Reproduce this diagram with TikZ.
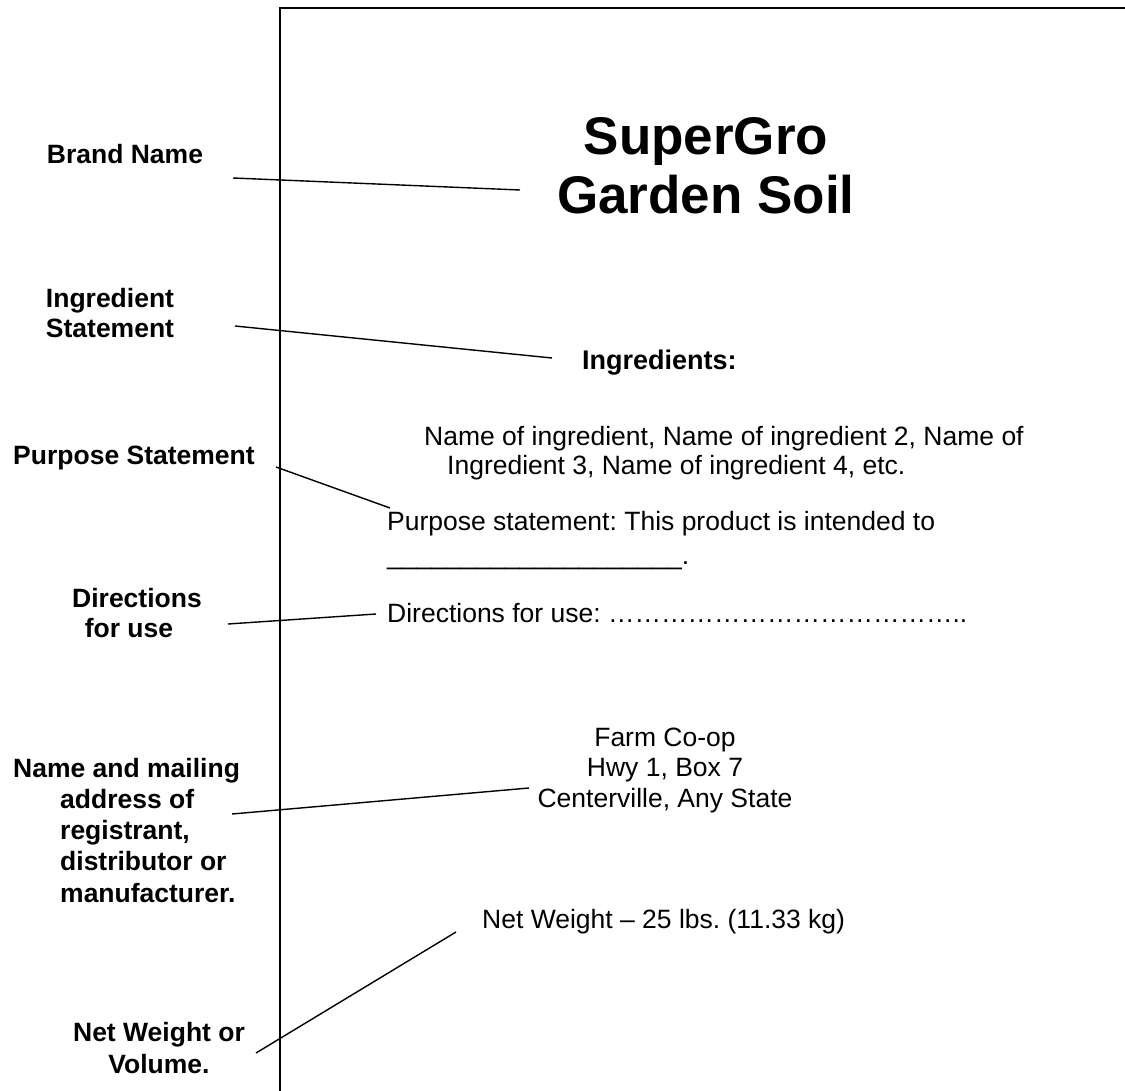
\documentclass[tikz,border=0pt]{standalone}
\usepackage{fontspec}
\setmainfont{Liberation Sans}
\frenchspacing
\begin{document}
\frenchspacing
\begin{tikzpicture}[x=1pt,y=-1pt]
\tikzset{
  lbl/.style={font=\bfseries\fontsize{26.5}{31}\selectfont, inner sep=0pt, align=center, anchor=base},
  body/.style={font=\fontsize{26.5}{30.5}\selectfont, inner sep=0pt},
  conn/.style={line width=1.4pt},
  framestyle/.style={line width=1.8pt}
}
\useasboundingbox (0,0) rectangle (1125,1091);
\fill[white] (0,0) rectangle (1125,1091);
% label frame
\coordinate (fb) at (280,1091);
\coordinate (ftl) at (280,8);
\coordinate (ftr) at (1125,8);
\draw[framestyle] (fb) -- (ftl) -- (ftr);

% left labels (base = baseline of last line)
\node[lbl] (brandlbl) at (125,164) {Brand Name};
\node[lbl] (ingrlbl) at (110,338) {Ingredient\\Statement};
\node[lbl] (purplbl) at (134,464) {Purpose Statement};
\node[lbl, font=\bfseries\fontsize{26.5}{29.5}\selectfont] (dirlbl) at (137,637) {Directions\\for use\hspace*{16pt}};
\node[lbl, align=left, anchor=base west, font=\bfseries\fontsize{26.5}{31.25}\selectfont] (namelbl) at (60,902) {\hspace*{-47pt}Name and mailing\\address of\\registrant,\\distributor or\\manufacturer.};
\node[lbl, font=\bfseries\fontsize{26.5}{32}\selectfont] (netlbl) at (159,1073) {Net Weight or\\Volume.};

% label contents
\node[font=\bfseries\fontsize{53}{59}\selectfont, inner sep=0pt, align=center, anchor=base] (title) at (706,214) {SuperGro\\Garden Soil};
\node[font=\bfseries\fontsize{27}{31}\selectfont, inner sep=0pt, anchor=base west] (ingrhead) at (582,370) {Ingredients:};
\node[body, align=left, anchor=base west, font=\fontsize{26.5}{28.5}\selectfont] (ingrlist) at (424,474) {Name of ingredient, Name of ingredient 2, Name of\\\hspace*{23pt}Ingredient 3, Name of ingredient 4, etc.};
\node[body, align=left, anchor=base west, font=\fontsize{26.5}{34}\selectfont] (purptext) at (387,564) {Purpose statement: This product is intended to\\\_\_\_\_\_\_\_\_\_\_\_\_\_\_\_\_\_\_\_\_.};
\node[body, anchor=base west] (dirtext) at (387,622) {Directions for use: …………………………………..};
\node[body, align=center, anchor=base] (farm) at (665,807) {Farm Co-op\\Hwy 1, Box 7\\Centerville, Any State};
\node[body, anchor=base west] (nettext) at (482,928) {Net Weight – 25 lbs. (11.33 kg)};

% connector ends
\coordinate (c1a) at (233,178); \coordinate (c1b) at (520,190);
\coordinate (c2a) at (235,326); \coordinate (c2b) at (552,358);
\coordinate (c3a) at (276,467); \coordinate (c3b) at (390,508);
\coordinate (c4a) at (228,624); \coordinate (c4b) at (376,614);
\coordinate (c5a) at (232,814); \coordinate (c5b) at (529,788);
\coordinate (c6a) at (256,1053); \coordinate (c6b) at (456,932);
\draw[conn] (c1a) -- (c1b);
\draw[conn] (c2a) -- (c2b);
\draw[conn] (c3a) -- (c3b);
\draw[conn] (c4a) -- (c4b);
\draw[conn] (c5a) -- (c5b);
\draw[conn] (c6a) -- (c6b);
\end{tikzpicture}
\end{document}
